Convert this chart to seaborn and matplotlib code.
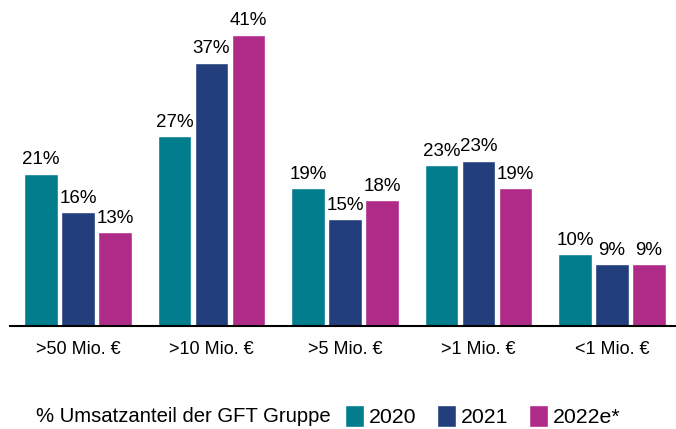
import pandas as pd
import matplotlib.pyplot as plt
import seaborn as sns
from matplotlib.patches import Patch

# ==================== Daten ====================
kategorien = [">50 Mio. €", ">10 Mio. €", ">5 Mio. €", ">1 Mio. €", "<1 Mio. €"]
jahre = ["2020", "2021", "2022e*"]
werte_2020 = [21.4, 26.7, 19.4, 22.6, 10.1]
werte_2021 = [16.0, 37.1, 15.0, 23.3, 8.7]
werte_2022 = [13.2, 41.0, 17.7, 19.4, 8.7]
farben = ["#017D8E", "#233E7D", "#B02A88"]
legenden_text = "% Umsatzanteil der GFT Gruppe"

df = pd.DataFrame({
    "Kategorie": kategorien * 3,
    "Jahr": [jahre[0]] * 5 + [jahre[1]] * 5 + [jahre[2]] * 5,
    "Wert": werte_2020 + werte_2021 + werte_2022,
})

# ==================== Plot ====================
sns.set_style("white")
plt.rcParams["font.family"] = ["Liberation Sans", "DejaVu Sans"]
plt.rcParams["text.color"] = "black"
plt.rcParams["xtick.color"] = "black"

fig = plt.figure(figsize=(6.76, 4.29), dpi=100)
ax = fig.add_axes([10 / 676, 1 - 326 / 429, 666 / 676, 326 / 429])

sns.barplot(data=df, x="Kategorie", y="Wert", hue="Jahr", palette=farben,
            width=0.83, gap=0.1, legend=False, ax=ax, saturation=1)

for cont in ax.containers:
    ax.bar_label(cont, labels=[f"{b.get_height():.0f}%" for b in cont],
                 padding=4, fontsize=13.5, color="black")

ax.set_xlim(-0.509, 4.479)
ax.set_ylim(0, 45.9)
ax.set_xlabel("")
ax.set_ylabel("")
ax.set_yticks([])
ax.tick_params(axis="x", length=0, labelsize=13, pad=11, labelcolor="black")
for s in ["top", "right", "left"]:
    ax.spines[s].set_visible(False)
ax.spines["bottom"].set_color("black")
ax.spines["bottom"].set_linewidth(1.5)

# Legende unten
fig.text(36 / 676, 1 - 416 / 429, legenden_text, fontsize=14.6, va="center", ha="left")
handles = [Patch(facecolor=c, label=j) for c, j in zip(farben, jahre)]
fig.legend(handles=handles, loc="center left", bbox_to_anchor=(345 / 676, 1 - 416 / 429),
           ncol=3, frameon=False, fontsize=15.3, handlelength=0.9, handleheight=1.25,
           handletextpad=0.2, columnspacing=1.0, borderpad=0, borderaxespad=0)

plt.savefig("out.png", dpi=100)
plt.close()
